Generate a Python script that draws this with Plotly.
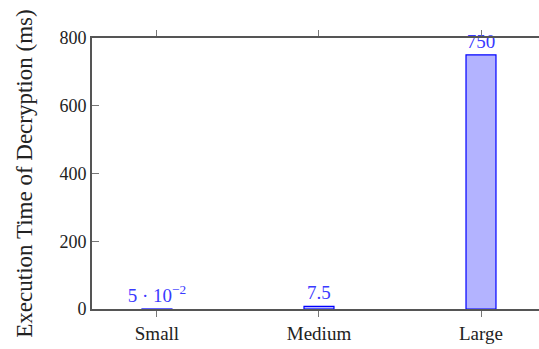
import plotly.graph_objects as go

categories = ["Small", "Medium", "Large"]
times_ms = [0.05, 7.5, 750]
value_labels = ["5 · 10<sup>−2</sup>", "7.5", "750"]
y_ticks = [0, 200, 400, 600, 800]

fig = go.Figure()
fig.add_trace(go.Bar(
    x=categories, y=times_ms, width=0.185,
    marker=dict(color="#b3b3ff", line=dict(color="#0000ff", width=1.2)),
    text=value_labels, textposition="outside", cliponaxis=False,
    constraintext="none",
    textfont=dict(family="Liberation Serif", size=19, color="#3a3aff"),
))

font = "Liberation Serif"
fig.update_layout(
    width=539, height=349,
    margin=dict(l=92, r=0, t=38, b=40),
    plot_bgcolor="white", paper_bgcolor="white",
    showlegend=False,
    font=dict(family=font, size=18, color="#222"),
    xaxis=dict(
        type="category", range=[-0.401, 2.358],
        showline=True, linecolor="#555", linewidth=2, mirror="ticks",
        ticks="outside", ticklen=6, tickcolor="#777", tickwidth=1,
        showgrid=False, zeroline=False,
        tickfont=dict(family=font, size=19, color="#222"),
    ),
    yaxis=dict(
        range=[0, 800], tickvals=y_ticks,
        showline=True, linecolor="#555", linewidth=2, mirror=False,
        ticks="inside", ticklen=7, tickcolor="#777", tickwidth=1,
        showgrid=False, zeroline=False,
        tickfont=dict(family=font, size=18, color="#222"),
        title=dict(text="Execution Time of Decryption (ms)",
                   font=dict(family=font, size=23, color="#222"), standoff=20),
    ),
)
fig.write_html("out.html")
